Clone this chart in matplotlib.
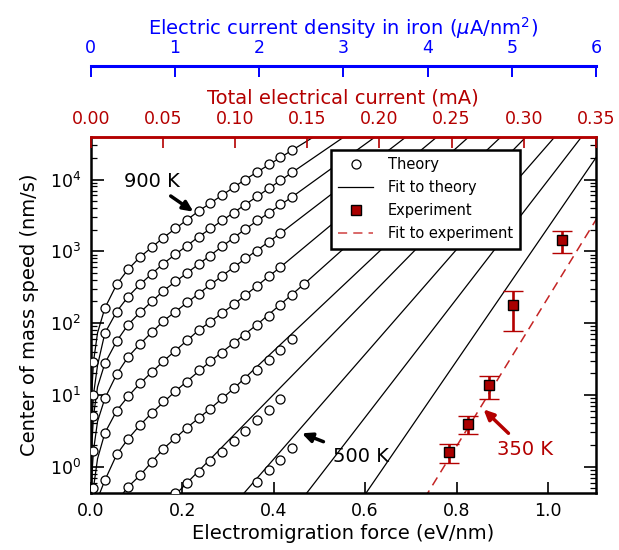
import matplotlib
matplotlib.use("Agg")
import matplotlib.pyplot as plt
from matplotlib.lines import Line2D
from matplotlib.ticker import FormatStrFormatter

# ---------------- data ----------------
theory_temperatures = [900, 850, 800, 750, 700, 650, 600, 550, 500]

theory_force = [
    [0.006, 0.031, 0.057, 0.082, 0.108, 0.134, 0.159, 0.185, 0.210, 0.236, 0.262, 0.287, 0.313, 0.338, 0.364, 0.389, 0.415, 0.441],
    [0.006, 0.031, 0.057, 0.082, 0.108, 0.134, 0.159, 0.185, 0.210, 0.236, 0.262, 0.287, 0.313, 0.338, 0.364, 0.389, 0.415, 0.441],
    [0.006, 0.031, 0.057, 0.082, 0.108, 0.134, 0.159, 0.185, 0.210, 0.236, 0.262, 0.287, 0.313, 0.338, 0.364, 0.389, 0.415, 0.441],
    [0.006, 0.031, 0.057, 0.082, 0.108, 0.134, 0.159, 0.185, 0.210, 0.236, 0.262, 0.287, 0.313, 0.338, 0.364, 0.389, 0.415],
    [0.006, 0.031, 0.057, 0.082, 0.108, 0.134, 0.159, 0.185, 0.210, 0.236, 0.262, 0.287, 0.313, 0.338, 0.364, 0.389, 0.415],
    [0.031, 0.057, 0.082, 0.108, 0.134, 0.159, 0.185, 0.210, 0.236, 0.262, 0.287, 0.313, 0.338, 0.364, 0.389, 0.415, 0.441, 0.466],
    [0.082, 0.108, 0.134, 0.159, 0.185, 0.210, 0.236, 0.262, 0.287, 0.313, 0.338, 0.364, 0.389, 0.415, 0.441],
    [0.185, 0.210, 0.236, 0.262, 0.287, 0.313, 0.338, 0.364, 0.389, 0.415],
    [0.364, 0.389, 0.415, 0.441],
]
theory_speed = [
    [28.8, 162, 347, 562, 832, 1150, 1550, 2090, 2750, 3630, 4680, 6030, 7760, 10000, 12900, 16200, 20400, 25700],
    [10.0, 72.4, 145, 234, 347, 490, 676, 912, 1200, 1590, 2090, 2690, 3470, 4470, 5890, 7590, 9770, 12600],
    [5.01, 27.5, 56.2, 95.5, 141, 200, 282, 380, 501, 661, 871, 1175, 1550, 2040, 2690, 3470, 4570, 5750],
    [1.66, 8.91, 19.5, 33.9, 51.3, 75.9, 107, 145, 195, 257, 347, 457, 603, 794, 1020, 1350, 1780],
    [0.50, 2.95, 6.03, 9.55, 14.5, 20.9, 29.5, 40.7, 57.5, 79.4, 105, 138, 182, 245, 331, 447, 603],
    [0.646, 1.48, 2.45, 3.80, 5.62, 8.13, 11.2, 15.1, 21.9, 29.5, 38.9, 52.5, 69.2, 95.5, 126, 178, 245, 347],
    [0.525, 0.759, 1.17, 1.78, 2.51, 3.47, 4.79, 6.46, 8.91, 12.3, 16.6, 22.4, 30.9, 41.7, 60.3],
    [0.437, 0.589, 0.851, 1.20, 1.62, 2.29, 3.16, 4.47, 6.17, 8.71],
    [0.603, 0.891, 1.23, 1.82],
]

fit_temperatures = [900, 850, 800, 750, 700, 650, 600, 550, 500, 450, 400]
fit_force = [
    [0.00005, 0.0005, 0.002, 0.006, 0.015, 0.031, 0.057, 0.082, 0.108, 0.159, 0.236, 0.338, 0.441, 0.52],
    [0.0002, 0.0005, 0.002, 0.006, 0.015, 0.031, 0.057, 0.082, 0.108, 0.159, 0.236, 0.338, 0.441, 0.58],
    [0.0005, 0.001, 0.002, 0.006, 0.015, 0.031, 0.057, 0.082, 0.108, 0.159, 0.236, 0.338, 0.441, 0.66],
    [0.0015, 0.003, 0.006, 0.015, 0.031, 0.057, 0.082, 0.108, 0.159, 0.236, 0.313, 0.415, 0.73],
    [0.004, 0.006, 0.015, 0.031, 0.057, 0.082, 0.108, 0.159, 0.236, 0.313, 0.415, 0.80],
    [0.012, 0.020, 0.031, 0.057, 0.082, 0.108, 0.134, 0.185, 0.262, 0.364, 0.466, 0.87],
    [0.055, 0.082, 0.108, 0.134, 0.159, 0.210, 0.262, 0.313, 0.98],
    [0.17, 1.00],
    [0.32, 1.05],
    [0.46, 1.09],
    [0.59, 1.11],
]
fit_speed = [
    [0.24, 2.4, 9.6, 28.8, 73, 162, 347, 562, 832, 1550, 3630, 10000, 25700, 52500],
    [0.333, 0.833, 3.33, 10.0, 25.8, 72.4, 145, 234, 347, 676, 1590, 4470, 12600, 50900],
    [0.418, 0.835, 1.67, 5.01, 12.9, 27.5, 56.2, 95.5, 141, 282, 661, 2040, 5750, 58500],
    [0.415, 0.83, 1.66, 4.27, 8.91, 19.5, 33.9, 51.3, 107, 257, 603, 1780, 61700],
    [0.333, 0.50, 1.29, 2.95, 6.03, 9.55, 14.5, 29.5, 79.4, 182, 603, 66000],
    [0.263, 0.43, 0.646, 1.48, 2.45, 3.80, 5.62, 11.2, 29.5, 95.5, 347, 69000],
    [0.316, 0.525, 0.759, 1.17, 1.78, 3.47, 6.46, 12.3, 123000],
    [0.324, 80400],
    [0.331, 70800],
    [0.339, 53700],
    [0.331, 22400],
]

exp_force = [0.784, 0.826, 0.872, 0.923, 1.030]
exp_speed = [1.62, 3.93, 13.7, 179, 1436]
exp_speed_low = [1.14, 2.83, 8.85, 77.6, 937]
exp_speed_high = [2.07, 5.08, 18.3, 282, 1936]

exp_fit_force = [0.73, 1.11]
exp_fit_speed = [0.363, 3090]

force_ticks = [0.0, 0.2, 0.4, 0.6, 0.8, 1.0]
current_ticks = [0.00, 0.05, 0.10, 0.15, 0.20, 0.25, 0.30, 0.35]
density_ticks = [0, 1, 2, 3, 4, 5, 6]

# ---------------- styling ----------------
RED = "#b40000"
BLUE = "#0000ff"
TICK_FS = 12.5
LABEL_FS = 14

fig = plt.figure(figsize=(6.19, 5.5), dpi=100)
ax = fig.add_axes([0.1465, 0.1031, 0.8163, 0.6487])
ax.set_yscale("log")

for F, v in zip(fit_force, fit_speed):
    ax.plot(F, v, color="k", lw=0.9, zorder=2)

for F, v in zip(theory_force, theory_speed):
    ax.plot(F, v, ls="none", marker="o", ms=6.5, mfc="white", mec="k",
            mew=0.9, zorder=3)

ax.plot(exp_fit_force, exp_fit_speed, color="#c42424", lw=1.1,
        dashes=(6, 4), zorder=2)

yerr = [[s - lo for s, lo in zip(exp_speed, exp_speed_low)],
        [hi - s for s, hi in zip(exp_speed, exp_speed_high)]]
ax.errorbar(exp_force, exp_speed, yerr=yerr, fmt="s", ms=7.0,
            mfc="#aa0000", mec="k", mew=1.0, ecolor=RED, elinewidth=1.9,
            capsize=7, capthick=1.7, zorder=4)

ax.set_xlim(0, 1.105)
ax.set_ylim(0.426, 39700)
ax.set_xticks(force_ticks)
ax.xaxis.set_major_formatter(FormatStrFormatter("%.1f"))
ax.tick_params(axis="x", which="both", direction="in", top=False,
               length=8, width=1.2, labelsize=TICK_FS, pad=6.5)
ax.tick_params(axis="y", which="major", direction="in", left=True,
               right=True, length=9, width=1.2, labelsize=TICK_FS, pad=7)
ax.tick_params(axis="y", which="minor", direction="in", left=True,
               right=True, length=4.5, width=0.9)
for s in ["left", "bottom", "right"]:
    ax.spines[s].set_linewidth(1.8)
ax.spines["top"].set_color(RED)
ax.spines["top"].set_linewidth(1.8)

ax.set_xlabel("Electromigration force (eV/nm)", fontsize=LABEL_FS, labelpad=3)
ax.set_ylabel("Center of mass speed (nm/s)", fontsize=LABEL_FS, labelpad=8)

# red top axis: total current
ax2 = ax.twiny()
ax2.set_xlim(0, 0.35)
ax2.set_xticks(current_ticks)
ax2.xaxis.set_major_formatter(FormatStrFormatter("%.2f"))
ax2.tick_params(axis="x", colors=RED, direction="in", length=8, width=1.2,
                labelsize=TICK_FS, pad=6)
for s in ["left", "bottom", "right"]:
    ax2.spines[s].set_visible(False)
ax2.spines["top"].set_color(RED)
ax2.spines["top"].set_linewidth(1.8)
ax2.set_xlabel("Total electrical current (mA)", color=RED,
               fontsize=LABEL_FS, labelpad=4.5)

# blue outer axis: current density
ax3 = ax.twiny()
ax3.spines["top"].set_position(("outward", 51))
ax3.set_xlim(0, 6)
ax3.set_xticks(density_ticks)
ax3.tick_params(axis="x", colors=BLUE, direction="in", length=8, width=1.4,
                labelsize=TICK_FS, pad=6)
for s in ["left", "bottom", "right"]:
    ax3.spines[s].set_visible(False)
ax3.spines["top"].set_color(BLUE)
ax3.spines["top"].set_linewidth(2.2)
ax3.set_xlabel(r"Electric current density in iron ($\mu$A/nm$^2$)",
               color=BLUE, fontsize=LABEL_FS, labelpad=3.5)

# legend
handles = [
    Line2D([], [], ls="none", marker="o", ms=6.5, mfc="white", mec="k", mew=0.9),
    Line2D([], [], color="k", lw=0.9),
    Line2D([], [], ls="none", marker="s", ms=7.0, mfc="#aa0000", mec="k", mew=1.0),
    Line2D([], [], color="#d04040", lw=1.1, dashes=(6, 4)),
]
labels = ["Theory", "Fit to theory", "Experiment", "Fit to experiment"]
leg = ax.legend(handles, labels, loc="upper left", bbox_to_anchor=(0.476, 0.962),
                borderaxespad=0, fontsize=10.5, frameon=True, fancybox=False,
                edgecolor="k", framealpha=1, handlelength=2.4,
                handletextpad=1.0, labelspacing=0.55, borderpad=0.5)
leg.get_frame().set_linewidth(1.8)
leg.set_zorder(10)

# annotations
arrow_k = dict(arrowstyle="-|>,head_length=0.6,head_width=0.28", lw=2.5,
               color="k", shrinkA=0, shrinkB=0)
arrow_r = dict(arrowstyle="-|>,head_length=0.6,head_width=0.28", lw=2.5,
               color=RED, shrinkA=0, shrinkB=0)
ax.text(0.1328, 9310, "900 K", ha="center", va="center", fontsize=LABEL_FS)
ax.annotate("", xy=(0.2246, 3560), xytext=(0.175, 5890),
            arrowprops=arrow_k, zorder=6)
ax.text(0.590, 1.38, "500 K", ha="center", va="center", fontsize=LABEL_FS)
ax.annotate("", xy=(0.4617, 2.92), xytext=(0.509, 2.23),
            arrowprops=arrow_k, zorder=6)
ax.text(0.9495, 1.71, "350 K", ha="center", va="center", fontsize=LABEL_FS,
        color=RED)
ax.annotate("", xy=(0.859, 6.30), xytext=(0.9136, 2.92),
            arrowprops=arrow_r, zorder=6)

fig.savefig("out.png", dpi=100)
